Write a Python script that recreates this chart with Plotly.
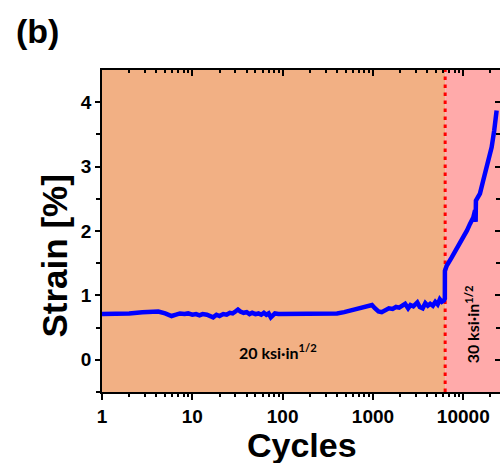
import plotly.graph_objects as go
import math

# ---- data ----
cycles = [1, 1.5, 2, 2.8, 3.5, 4.2, 5.0, 5.9, 6.6, 7.3, 8.2, 9.0, 10, 11, 12, 13, 14.5, 16, 17, 18.5,
          20, 22, 24, 26, 28, 30, 32, 34, 37, 40, 43, 46, 50, 54, 58, 62, 66, 70, 74, 78,
          82, 90, 100, 130, 170, 220, 280, 340, 400, 480, 580, 700, 820, 930, 975, 1050, 1150, 1250, 1350, 1500,
          1650, 1800, 1950, 2100, 2270, 2450, 2600, 2800, 3100, 3300, 3550, 3800, 4050, 4300, 4600, 4900, 5200, 5500, 5800, 6100,
          6250, 6260, 6550, 7450, 8300, 9190, 10000, 11000, 11860, 12900, 13500, 13700, 13800, 14500, 15300, 16600, 18150, 19400, 20600, 22000,
          23400]
strain = [0.71, 0.71, 0.72, 0.74, 0.75, 0.75, 0.72, 0.68, 0.70, 0.72, 0.71, 0.72, 0.70, 0.71, 0.69, 0.71, 0.70, 0.67, 0.66, 0.70,
          0.68, 0.71, 0.70, 0.73, 0.72, 0.75, 0.78, 0.75, 0.73, 0.74, 0.71, 0.73, 0.71, 0.72, 0.70, 0.73, 0.70, 0.72, 0.66, 0.69,
          0.72, 0.71, 0.71, 0.71, 0.71, 0.71, 0.71, 0.71, 0.72, 0.74, 0.77, 0.79, 0.81, 0.84, 0.85, 0.80, 0.75, 0.74, 0.77, 0.80,
          0.79, 0.82, 0.81, 0.84, 0.87, 0.80, 0.85, 0.83, 0.89, 0.82, 0.80, 0.88, 0.84, 0.87, 0.84, 0.90, 0.86, 0.94, 0.90, 0.92,
          0.95, 1.38, 1.46, 1.59, 1.70, 1.80, 1.90, 2.01, 2.11, 2.21, 2.32, 2.14, 2.47, 2.52, 2.58, 2.78, 2.99, 3.14, 3.30, 3.56,
          3.87]

transition_cycle = 6300
x_range_cycles = [1, 25500]
y_range = [-0.5, 4.5]
x_tickvals = [1, 10, 100, 1000, 10000]
x_ticktext = ["1", "10", "100", "1000", "10000"]
y_tickvals = [0, 1, 2, 3, 4]
region_labels = ["20 ksi·in<sup>1/2</sup>", "30 ksi·in<sup>1/2</sup>"]

minor_x = [m * 10 ** d for d in range(0, 5) for m in range(2, 10) if m * 10 ** d <= x_range_cycles[1]]
minor_y = [-0.5, 0.5, 1.5, 2.5, 3.5]

FONT = "Liberation Sans"
logr = [math.log10(x_range_cycles[0]), math.log10(x_range_cycles[1])]

fig = go.Figure()
fig.add_trace(go.Scatter(x=cycles, y=strain, mode="lines",
                         line=dict(color="#0000FF", width=4.5), showlegend=False, hoverinfo="skip"))
# dummy traces to activate mirror axes
fig.add_trace(go.Scatter(x=[1], y=[0], xaxis="x2", yaxis="y", mode="markers",
                         marker=dict(opacity=0), showlegend=False, hoverinfo="skip"))
fig.add_trace(go.Scatter(x=[1], y=[0], xaxis="x", yaxis="y2", mode="markers",
                         marker=dict(opacity=0), showlegend=False, hoverinfo="skip"))

fig.add_shape(type="rect", xref="x", yref="paper", x0=x_range_cycles[0], x1=transition_cycle, y0=0, y1=1,
              fillcolor="#F2B084", line=dict(width=0), layer="below")
fig.add_shape(type="rect", xref="x", yref="paper", x0=transition_cycle, x1=x_range_cycles[1] * 1.2, y0=0, y1=1,
              fillcolor="#FFAAAA", line=dict(width=0), layer="below")
fig.add_shape(type="line", xref="x", yref="paper", x0=transition_cycle, x1=transition_cycle, y0=0, y1=1,
              line=dict(color="#FF0000", width=3, dash="3.5px,4.5px"), layer="below")

axis_common = dict(showline=True, linecolor="black", linewidth=1.5, showgrid=False, zeroline=False)

fig.update_layout(
    width=500, height=463,
    margin=dict(l=102, r=0, t=70, b=71),
    paper_bgcolor="white", plot_bgcolor="white",
    font=dict(family=FONT, color="black"),
    xaxis=dict(type="log", range=logr, tickmode="array", tickvals=x_tickvals, ticktext=x_ticktext,
               ticks="outside", ticklen=6, tickwidth=1.5, tickcolor="black",
               tickfont=dict(family=FONT, size=19, color="black", weight="bold"),
               minor=dict(tickmode="array", tickvals=minor_x, ticks="outside", ticklen=3.5, tickwidth=1.5, tickcolor="black"),
               **axis_common),
    xaxis2=dict(type="log", range=logr, overlaying="x", side="top", anchor="y", tickmode="array", tickvals=x_tickvals,
                showticklabels=False, ticks="inside", ticklen=6, tickwidth=1.5, tickcolor="black",
                minor=dict(tickmode="array", tickvals=minor_x, ticks="inside", ticklen=3.5, tickwidth=1.5, tickcolor="black"),
                **axis_common),
    yaxis=dict(range=y_range, tickmode="array", tickvals=y_tickvals,
               ticks="outside", ticklen=5, tickwidth=1.5, tickcolor="black",
               tickfont=dict(family=FONT, size=19, color="black", weight="bold"),
               minor=dict(tickmode="array", tickvals=minor_y, ticks="outside", ticklen=4, tickwidth=1.5, tickcolor="black"),
               **axis_common),
    yaxis2=dict(range=y_range, overlaying="y", side="right", anchor="x", tickmode="array", tickvals=y_tickvals,
                showticklabels=False, ticks="inside", ticklen=5, tickwidth=1.5, tickcolor="black",
                minor=dict(tickmode="array", tickvals=minor_y, ticks="inside", ticklen=4, tickwidth=1.5, tickcolor="black"),
                **axis_common),
)

ann_font = dict(family="Lato", size=16, color="black", weight="bold")
fig.add_annotation(x=1.945, y=0.13, xref="x", yref="y", text=region_labels[0], showarrow=False,
                   font=ann_font, xanchor="center", yanchor="middle")
fig.add_annotation(x=4.096, y=0.55, xref="x", yref="y", text=region_labels[1], showarrow=False,
                   font=ann_font, textangle=-90, xanchor="center", yanchor="middle")

title_font = dict(family=FONT, size=34, color="black", weight="bold")
fig.add_annotation(x=(302 - 102) / 398, y=(392 - 445) / 322, xref="paper", yref="paper", text="Cycles",
                   showarrow=False, font=title_font, xanchor="center", yanchor="middle")
fig.add_annotation(x=(54 - 102) / 398, y=(392 - 256.5) / 322, xref="paper", yref="paper", text="Strain [%]",
                   showarrow=False, font=dict(family=FONT, size=35, color="black", weight="bold"),
                   textangle=-90, xanchor="center", yanchor="middle")
fig.add_annotation(x=(37 - 102) / 398, y=(392 - 31) / 322, xref="paper", yref="paper", text="(b)",
                   showarrow=False, font=dict(family=FONT, size=34, color="black", weight="bold"),
                   xanchor="center", yanchor="middle")

fig.write_html("out.html", config={"displayModeBar": False},
               post_script="document.body.style.margin='0px';document.body.style.overflow='hidden';")
